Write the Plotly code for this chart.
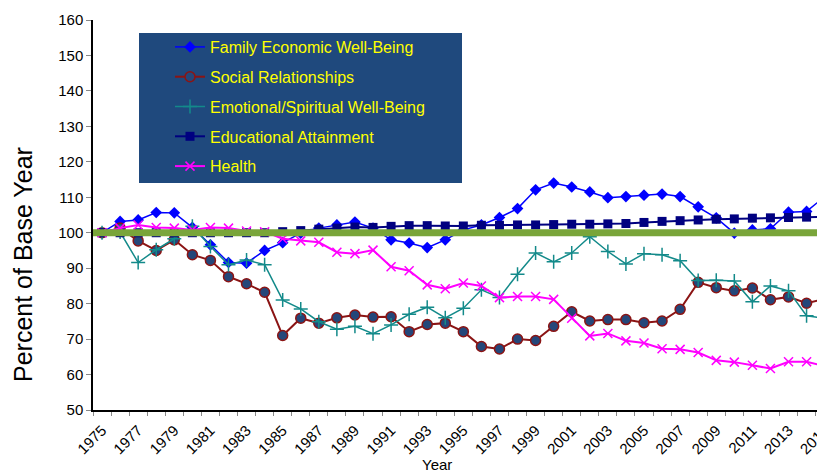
import plotly.graph_objects as go

# data ------------------------------------------------------------------------------------------------
years = list(range(1975, 2016))

family = [100, 103.2, 103.6, 105.7, 105.6, 101.5, 96.6, 91.6, 91.4, 95.0,
          97.2, 99.9, 101.3, 102.2, 103.0, 101.3, 98.0, 97.1, 95.8, 98.0,
          100.8, 102.2, 104.3, 106.8, 112.1, 114.0, 112.9, 111.5, 109.9, 110.2,
          110.6, 110.9, 110.2, 107.3, 104.2, 99.9, 100.8, 101.1, 105.8, 106.0, 110.2]

social = [100, 101.3, 97.7, 95.0, 98.0, 93.8, 92.2, 87.6, 85.6, 83.2,
          71.0, 75.9, 74.5, 76.0, 76.8, 76.2, 76.3, 72.1, 74.1, 74.5,
          72.1, 67.9, 67.2, 70.0, 69.6, 73.6, 77.7, 75.1, 75.5, 75.5,
          74.6, 75.1, 78.4, 86.0, 84.5, 83.6, 84.4, 81.1, 81.9, 80.1, 81.3]

emotional = [100, 100.2, 91.6, 95.2, 98.3, 101.8, 96.1, 91.0, 92.3, 91.0,
             81.0, 78.5, 74.9, 72.8, 73.6, 71.5, 74.0, 77.0, 79.0, 76.0,
             78.7, 83.9, 81.7, 88.3, 94.3, 91.8, 94.3, 98.9, 94.7, 91.2,
             94.1, 93.8, 92.1, 86.5, 86.6, 86.4, 80.5, 85.0, 83.6, 76.6, 75.8]

education = [100, 100, 100, 100, 100, 100, 100, 100, 100, 100,
             100.3, 100.6, 101.0, 101.3, 101.6, 101.5, 101.8, 102.0, 102.0, 101.9,
             101.9, 102.1, 102.1, 102.2, 102.2, 102.3, 102.4, 102.4, 102.5, 102.6,
             102.9, 103.2, 103.4, 103.6, 103.8, 103.9, 104.1, 104.2, 104.3, 104.4, 104.5]

health = [100, 101.3, 102.2, 101.5, 101.3, 100.8, 101.5, 101.3, 100.5, 100.3,
          98.3, 97.7, 97.3, 94.5, 94.1, 95.1, 90.4, 89.3, 85.3, 84.2,
          85.8, 85.0, 81.7, 82.0, 82.0, 81.2, 75.9, 70.9, 71.6, 69.5,
          68.9, 67.3, 67.1, 66.2, 64.0, 63.5, 62.6, 61.7, 63.6, 63.6, 62.4]

base_value = 100
tick_years = list(range(1975, 2016, 2))

# layout helpers (page pixels -> paper); the page body adds an 8px offset -------------------------------
OFF = 8
FW, FH = 825 - OFF, 473 - OFF
L, T, W, H = 93, 20, 732, 390
def px_x(p): return (p - L) / W
def px_y(p): return (T + H - p) / H

# figure ----------------------------------------------------------------------------------------------
fig = go.Figure()

fig.add_trace(go.Scatter(x=years, y=family, name="Family Economic Well-Being", mode="lines+markers",
                         line=dict(color="#0000FF", width=1.5),
                         marker=dict(symbol="diamond", size=9, color="#0000FF"),
                         legendgroup="a"))
fig.add_trace(go.Scatter(x=years, y=social, name="Social Relationships", mode="lines+markers",
                         line=dict(color="#8B1414", width=2),
                         marker=dict(symbol="circle", size=10, color="#24477A",
                                     line=dict(color="#8B1414", width=1.5)),
                         legendgroup="b"))
fig.add_trace(go.Scatter(x=years, y=emotional, name="Emotional/Spiritual Well-Being", mode="lines+markers",
                         line=dict(color="#138A8A", width=1.5),
                         marker=dict(symbol="cross-thin", size=10, color="#138A8A",
                                     line=dict(color="#138A8A", width=1.5)),
                         legendgroup="c"))
fig.add_trace(go.Scatter(x=years, y=education, name="Educational Attainment", mode="lines+markers",
                         line=dict(color="#000080", width=2),
                         marker=dict(symbol="square", size=9, color="#000080"),
                         legendgroup="d"))
fig.add_trace(go.Scatter(x=years, y=health, name="Health", mode="lines+markers",
                         line=dict(color="#FF00FF", width=2),
                         marker=dict(symbol="x-thin", size=9, color="#FF00FF",
                                     line=dict(color="#FF00FF", width=1.5)),
                         legendgroup="e"))

# base year reference line
fig.add_shape(type="line", xref="paper", x0=0, x1=1, yref="y", y0=base_value, y1=base_value,
              line=dict(color="#79A53A", width=7), layer="above")

# legend background box
fig.add_shape(type="rect", xref="paper", yref="paper",
              x0=px_x(139), x1=px_x(462), y0=px_y(183), y1=px_y(33),
              fillcolor="#1F497D", line=dict(width=0), layer="above")

# axis titles
fig.add_annotation(text="Percent of Base Year", xref="paper", yref="paper",
                   x=px_x(23), y=px_y(265), textangle=-90, showarrow=False,
                   font=dict(size=25), xanchor="center", yanchor="middle")
fig.add_annotation(text="Year", xref="paper", yref="paper",
                   x=px_x(437), y=px_y(464), showarrow=False,
                   font=dict(size=15), xanchor="center", yanchor="middle")

fig.update_layout(
    width=FW, height=FH,
    margin=dict(l=L - OFF, r=FW - (L - OFF) - W, t=T - OFF, b=FH - (T - OFF) - H),
    plot_bgcolor="white", paper_bgcolor="white",
    font=dict(family="Liberation Sans, Arial", color="black"),
    showlegend=True,
    legend=dict(x=px_x(170), y=px_y(30), xanchor="left", yanchor="top",
                bgcolor="rgba(0,0,0,0)", font=dict(size=16, color="#FFFF00"),
                tracegroupgap=6, itemwidth=30),
    xaxis=dict(range=[1974.5, 2015.02], tickvals=tick_years, tickangle=-45, automargin=False,
               tickfont=dict(size=15), ticks="outside", ticklen=4, tickcolor="rgba(0,0,0,0)",
               ticklabeloverflow="allow",
               showline=True, linecolor="black", linewidth=1.5,
               showgrid=False, zeroline=False,
               minor=dict(ticks="outside", tick0=1974.5, dtick=1, ticklen=4, tickcolor="#888",
                          showgrid=False)),
    yaxis=dict(range=[50, 160], dtick=10, tickfont=dict(size=15), ticks="outside", ticklen=5,
               tickcolor="#888", showline=True, linecolor="black", linewidth=1.5, automargin=False,
               showgrid=False, zeroline=False),
)

fig.write_html("out.html")
